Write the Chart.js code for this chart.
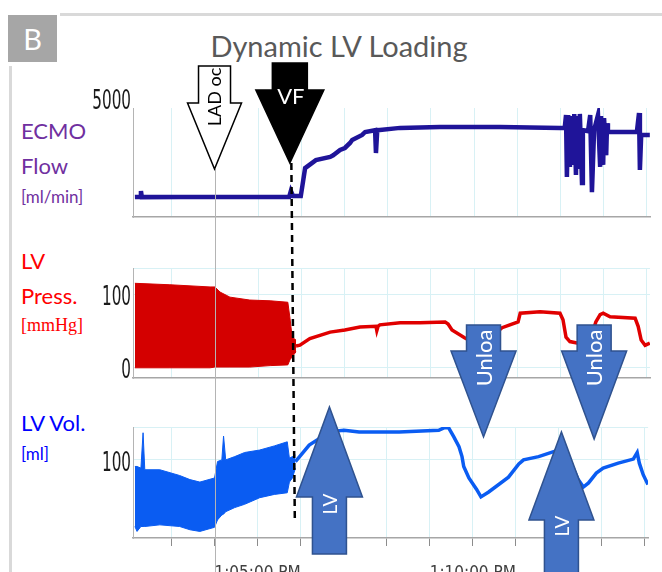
<!DOCTYPE html>
<html>
<head>
<meta charset="utf-8">
<title>Dynamic LV Loading</title>
<script src="https://cdn.jsdelivr.net/npm/chart.js@4.4.1/dist/chart.umd.min.js"></script>
<style>
  html, body { margin: 0; padding: 0; background: #fff; }
  body { width: 662px; height: 572px; overflow: hidden; position: relative; font-family: Lato, sans-serif; }
  canvas { position: absolute; left: 0; top: 0; }
  #flow_chart { z-index: 1; }
  #press_chart { z-index: 2; }
  #vol_chart { z-index: 3; }
  .frame-top { position: absolute; left: 60px; top: 13px; width: 602px; height: 3px; background: #d9d9d9; }
  .frame-left { position: absolute; left: 9px; top: 66px; width: 3px; height: 520px; background: #d9d9d9; }
  .tag { position: absolute; left: 8px; top: 15px; width: 49px; height: 47px; background: #a6a6a6; }
  .txt { position: absolute; line-height: 1; white-space: nowrap; }
</style>
</head>
<body>
<div class="frame-top"></div>
<div class="frame-left"></div>
<div class="tag"></div>
<div class="txt" style="left:8px;width:49px;text-align:center;top:24px;font-size:29px;color:#fff">B</div>
<div class="txt" style="left:0;width:678px;text-align:center;top:31px;font-size:29px;color:#595959">Dynamic LV Loading</div>

<div class="txt" style="left:21px;top:120px;font-size:22px;color:#7030a0">ECMO</div>
<div class="txt" style="left:21px;top:155px;font-size:22px;color:#7030a0">Flow</div>
<div class="txt" style="left:21px;top:188px;font-size:17px;color:#7030a0">[ml/min]</div>

<div class="txt" style="left:21px;top:250px;font-size:22px;color:#ff0000">LV</div>
<div class="txt" style="left:21px;top:285px;font-size:22px;color:#ff0000">Press.</div>
<div class="txt" style="left:21px;top:316px;font-size:18px;color:#ff0000;font-family:'Liberation Serif',serif">[mmHg]</div>

<div class="txt" style="left:21px;top:412px;font-size:22px;color:#0000ff">LV Vol.</div>
<div class="txt" style="left:21px;top:445px;font-size:17px;color:#0000ff">[ml]</div>

<canvas id="flow_chart" width="662" height="600"></canvas>
<canvas id="press_chart" width="662" height="600"></canvas>
<canvas id="vol_chart" width="662" height="600"></canvas>

<script>
// time in minutes after 1:00 PM
const timeTicks = [3, 4, 5, 6, 7, 8, 9, 10, 11, 12, 13, 14];
const timeTickLabels = ['', '', '1:05:00 PM', '', '', '', '', '1:10:00 PM', '', '', '', ''];
const timeMin = 2.106;
const timeMax = 14.074;

// ECMO flow [ml/min]
const flowTime = [2.15, 2.27, 2.29, 2.31, 3.20, 4.30, 5.20, 5.72, 5.76, 5.81, 5.99, 6.03, 6.09, 6.34, 6.67, 6.74,
  6.90, 7.01, 7.13, 7.18, 7.41, 7.48, 7.71, 7.73, 7.76, 7.82, 8.29, 9.21, 10.60, 11.99, 12.10,
  12.13, 12.15, 12.18, 12.22, 12.25, 12.29, 12.32, 12.36, 12.38, 12.43, 12.45, 12.50, 12.52, 12.64,
  12.69, 12.73, 12.78, 12.87, 12.92, 12.94, 12.99, 13.01, 13.06, 13.08, 13.10, 13.77, 13.82, 13.84,
  13.87, 14.07];
const flowValue = [875, 880, 1140, 870, 880, 875, 880, 875, 1140, 920, 920, 1400, 2140, 2490, 2630, 2700,
  2930, 3020, 3240, 3370, 3590, 3720, 3800, 2800, 3800, 3810, 3900, 3940, 3940, 3900, 3900,
  4460, 1750, 4460, 2190, 4420, 2280, 4510, 1840, 4420, 2100, 4510, 1490, 3800, 3760,
  4460, 1090, 3800, 4460, 2190, 4420, 2280, 4330, 2700, 4100, 3720, 3720, 4550, 2060,
  3590, 3590];

// LV pressure [mmHg]: beat-to-beat range before VF, then mean trace
const pressBandTime = [2.15, 2.96, 3.89, 4.00, 4.12, 4.35, 4.81, 5.28, 5.69, 5.74, 5.79, 5.88];
const pressHigh = [116, 114, 111, 111, 104, 97, 93, 92, 90, 68, 42, 38];
const pressLow = [0, 0, 0, 1, 1, 1, 1, 3, 4, 11, 15, 22];
const pressLineTime = [5.88, 5.97, 6.20, 6.67, 7.01, 7.36, 7.73, 7.75, 7.78, 7.82, 8.29, 8.75, 9.33, 9.40,
  9.49, 9.79, 10.02, 10.25, 10.49, 10.65, 10.83, 11.02, 11.07, 11.53, 11.99, 12.06, 12.13, 12.22,
  12.38, 12.69, 12.82, 12.92, 12.99, 13.15, 13.73, 13.80, 13.87, 13.96, 14.07];
const pressLine = [30, 31, 40, 49, 52, 56, 57, 51, 57, 59, 62, 62, 63, 60,
  52, 41, 34, 38, 47, 55, 59, 63, 75, 77, 75, 66, 42, 36,
  34, 38, 63, 73, 75, 70, 68, 57, 38, 31, 34];

// LV volume [ml]
const volBandTime = [2.15, 2.20, 2.29, 2.34, 2.38, 2.73, 3.19, 3.43, 3.66, 4.00, 4.07, 4.17, 4.21, 4.26,
  4.47, 4.70, 5.05, 5.39, 5.69, 5.74, 5.81, 5.88];
const volHigh = [92, 92, 90, 133, 88, 88, 81, 76, 73, 78, 98, 100, 129, 100,
  104, 109, 112, 117, 122, 102, 104, 106];
const volLow = [19, 13, 19, 19, 19, 21, 19, 15, 13, 18, 27, 33, 34, 37,
  42, 46, 54, 58, 60, 73, 78, 90];
const volLineTime = [5.88, 6.20, 6.50, 6.80, 7.01, 7.36, 8.29, 9.21, 9.33, 9.44, 9.56, 9.68, 9.75, 9.79,
  9.91, 10.09, 10.19, 10.37, 10.83, 11.07, 11.18, 11.53, 11.88, 12.06, 12.25, 12.45, 12.57, 12.69,
  12.87, 13.03, 13.38, 13.73, 13.82, 13.87, 13.96, 14.07];
const volLine = [98, 118, 128, 135, 136, 134, 134, 136, 139, 139, 128, 116, 104, 92,
  78, 64, 55, 61, 79, 95, 100, 104, 110, 113, 100, 76, 67, 72,
  84, 90, 96, 101, 109, 96, 82, 70];

const flowTicks = [5000];
const pressTicks = [0, 100];
const volTicks = [100];

const eventNames = ['LAD oc', 'VF', 'Unloa', 'Unloa', 'LV', 'LV'];
const eventTimes = [4.00, 5.75, 10.25, 12.82, 6.67, 12.06];

const NARROW = "'Liberation Sans Narrow', 'DejaVu Sans Condensed', 'Liberation Sans', sans-serif";
const GRID = '#d8f1f5';

function pts(xs, ys) {
  return xs.map((x, i) => ({ x: x, y: ys[i] }));
}

// squeezed numbers next to each y axis
const yLabels = {
  id: 'yLabels',
  afterDraw(chart, args, opts) {
    const ctx = chart.ctx;
    const y = chart.scales.y;
    ctx.save();
    ctx.font = '26px ' + NARROW;
    ctx.fillStyle = '#1a1a1a';
    ctx.textAlign = 'right';
    ctx.textBaseline = 'middle';
    opts.values.forEach(v => {
      ctx.save();
      ctx.translate(131, y.getPixelForValue(v) + opts.shift);
      ctx.scale(0.65, 1);
      ctx.fillText(String(v), 0, 0);
      ctx.restore();
    });
    ctx.restore();
  }
};

function arrowPath(ctx, cx, s) {
  ctx.beginPath();
  ctx.moveTo(cx - s.shaft, s.base);
  ctx.lineTo(cx - s.shaft, s.neck);
  ctx.lineTo(cx - s.head, s.neck);
  ctx.lineTo(cx, s.tip);
  ctx.lineTo(cx + s.head, s.neck);
  ctx.lineTo(cx + s.shaft, s.neck);
  ctx.lineTo(cx + s.shaft, s.base);
  ctx.closePath();
}

// event arrows, LAD marker and VF dashed line, drawn over all three panels
const eventMarks = {
  id: 'eventMarks',
  afterDraw(chart) {
    const ctx = chart.ctx;
    const x = chart.scales.x;
    const shapes = [
      { base: 66, neck: 103, tip: 169, shaft: 16, head: 27, fill: '#ffffff', edge: '#000000', ink: '#000000', size: 18, turn: true, at: 97 },
      { base: 63, neck: 90, tip: 163, shaft: 17.5, head: 34, fill: '#000000', edge: '#000000', ink: '#ffffff', size: 22, turn: false, at: 97 },
      { base: 325, neck: 351, tip: 437, shaft: 17, head: 32.5, fill: '#4472c4', edge: '#2f528f', ink: '#ffffff', size: 22, turn: true, at: 358 },
      { base: 325, neck: 351, tip: 439, shaft: 17, head: 32.5, fill: '#4472c4', edge: '#2f528f', ink: '#ffffff', size: 22, turn: true, at: 358 },
      { base: 554, neck: 497, tip: 407, shaft: 17, head: 33, fill: '#4472c4', edge: '#2f528f', ink: '#ffffff', size: 19, turn: true, at: 504 },
      { base: 610, neck: 520, tip: 432, shaft: 17, head: 32.5, fill: '#4472c4', edge: '#2f528f', ink: '#ffffff', size: 19, turn: true, at: 526 }
    ];

    ctx.save();

    // LAD occlusion marker runs down from the arrow tip
    const xl = Math.round(x.getPixelForValue(eventTimes[0])) + 0.5;
    ctx.strokeStyle = '#b4b4b4';
    ctx.lineWidth = 1;
    ctx.beginPath();
    ctx.moveTo(xl, shapes[0].tip);
    ctx.lineTo(xl, 600);
    ctx.stroke();

    // VF onset
    const xv = x.getPixelForValue(eventTimes[1]);
    ctx.strokeStyle = '#000';
    ctx.lineWidth = 2.5;
    ctx.setLineDash([7, 5]);
    ctx.beginPath();
    ctx.moveTo(xv + 1.5, shapes[1].tip);
    ctx.lineTo(xv + 5, 522);
    ctx.stroke();
    ctx.setLineDash([]);

    shapes.forEach((s, i) => {
      const cx = x.getPixelForValue(eventTimes[i]);
      arrowPath(ctx, cx, s);
      ctx.fillStyle = s.fill;
      ctx.fill();
      ctx.strokeStyle = s.edge;
      ctx.lineWidth = 1.5;
      ctx.stroke();

      ctx.save();
      arrowPath(ctx, cx, s);
      ctx.clip();
      ctx.fillStyle = s.ink;
      ctx.font = s.size + 'px Lato, sans-serif';
      ctx.textAlign = 'center';
      ctx.textBaseline = 'middle';
      ctx.translate(cx + 1, s.at);
      if (s.turn) ctx.rotate(-Math.PI / 2);
      ctx.fillText(eventNames[i], 0, 0);
      ctx.restore();
    });
    ctx.restore();
  }
};

// no cyan grid line under the LAD marker, it has its own gray line
function gridColor(c) {
  return c.tick && c.tick.value === eventTimes[0] ? 'rgba(0,0,0,0)' : GRID;
}

function buildPanel(id, panel) {
  const sample = document.getElementById(id);
  return new Chart(sample, {
    type: 'line',
    data: { datasets: panel.datasets },
    plugins: panel.plugins,
    options: {
      responsive: false,
      animation: false,
      events: [],
      layout: { padding: { top: panel.top, right: 12, bottom: panel.bottom, left: 0 } },
      elements: { point: { radius: 0 }, line: { tension: 0 } },
      plugins: {
        legend: { display: false },
        tooltip: { enabled: false },
        yLabels: { values: panel.yTicks, shift: panel.shift }
      },
      scales: {
        x: {
          type: 'linear',
          min: timeMin,
          max: timeMax,
          afterBuildTicks: axis => { axis.ticks = timeTicks.map(v => ({ value: v })); },
          afterFit: axis => { axis.height = panel.xHeight; },
          grid: { color: gridColor, drawTicks: panel.showTime, tickLength: 8, tickColor: '#8c8c8c', tickWidth: 1 },
          border: { color: '#a6a6a6', width: 1.5 },
          ticks: {
            display: panel.showTime,
            autoSkip: false,
            maxRotation: 0,
            minRotation: 0,
            padding: 17,
            color: '#404040',
            font: { family: NARROW, size: 17 },
            callback: (value, index) => timeTickLabels[index]
          }
        },
        y: {
          min: panel.min,
          max: panel.max,
          afterBuildTicks: axis => { axis.ticks = panel.gridAt.map(v => ({ value: v })); },
          afterFit: axis => { axis.width = 133; },
          grid: { display: panel.gridAt.length > 0, color: GRID, drawTicks: false },
          border: { color: '#b4b4b4', width: 1 },
          ticks: { display: false }
        }
      }
    }
  });
}

(function flow_chart()
{
    buildPanel('flow_chart', {
        top: 108, bottom: 383, xHeight: 0, showTime: false,
        min: 0, max: 4770, gridAt: [], yTicks: flowTicks, shift: 0,
        plugins: [yLabels],
        datasets: [{
            data: pts(flowTime, flowValue),
            borderColor: '#1f1499',
            borderWidth: 4.5,
            fill: false
        }]
    });
})();

(function press_chart()
{
    buildPanel('press_chart', {
        top: 268, bottom: 222, xHeight: 0, showTime: false,
        min: -14, max: 137, gridAt: [0, 100, 137], yTicks: pressTicks, shift: 3,
        plugins: [yLabels],
        datasets: [{
            data: pts(pressBandTime, pressHigh),
            borderColor: '#d40000',
            backgroundColor: '#d40000',
            borderWidth: 1,
            fill: '+1'
        }, {
            data: pts(pressBandTime, pressLow),
            borderColor: '#d40000',
            borderWidth: 1,
            fill: false
        }, {
            data: pts(pressLineTime, pressLine),
            borderColor: '#e00000',
            borderWidth: 3.5,
            fill: false
        }]
    });
})();

(function vol_chart()
{
    buildPanel('vol_chart', {
        top: 427, bottom: 0, xHeight: 62, showTime: true,
        min: 5, max: 140, gridAt: [100, 140], yTicks: volTicks, shift: 4,
        plugins: [yLabels, eventMarks],
        datasets: [{
            data: pts(volBandTime, volHigh),
            borderColor: '#0a5cf2',
            backgroundColor: '#0a5cf2',
            borderWidth: 1,
            fill: '+1'
        }, {
            data: pts(volBandTime, volLow),
            borderColor: '#0a5cf2',
            borderWidth: 1,
            fill: false
        }, {
            data: pts(volLineTime, volLine),
            borderColor: '#0a5cf2',
            borderWidth: 3.5,
            fill: false
        }]
    });
})();
</script>
</body>
</html>
